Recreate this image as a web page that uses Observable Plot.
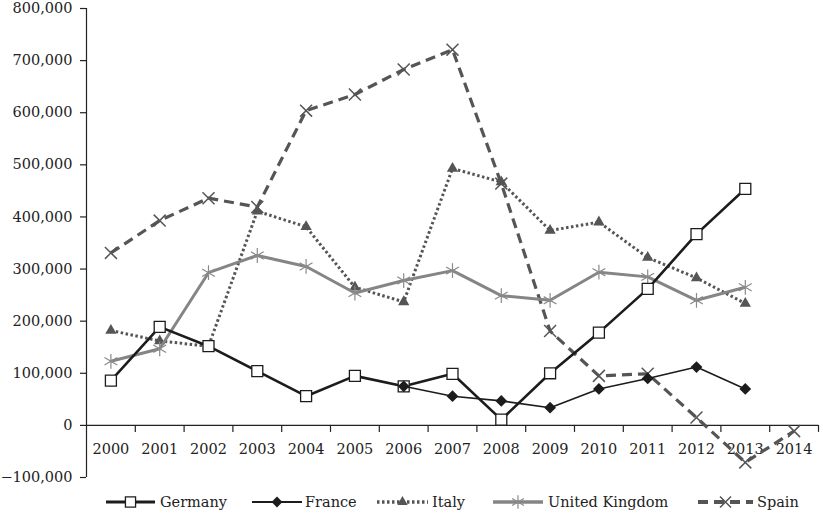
<!DOCTYPE html>
<html><head><meta charset="utf-8">
<script src="https://cdn.jsdelivr.net/npm/d3@7"></script>
<script src="https://cdn.jsdelivr.net/npm/@observablehq/plot@0.6"></script>
<style>
body{margin:0;background:#fff;}
#chart{width:823px;height:517px;font-family:"DejaVu Serif",serif;}
#chart svg{display:block;}
</style>
</head><body><div id="chart"></div>
<script>
const years = [2000,2001,2002,2003,2004,2005,2006,2007,2008,2009,2010,2011,2012,2013,2014];
const germany = [86000,189000,152000,104000,56000,95000,75000,99000,11000,100000,178000,262000,367000,454000];
const france  = [null,null,null,null,null,null,75000,56000,47000,34000,70000,90000,112000,70000];
const italy   = [182000,162000,152000,411000,381000,265000,237000,493000,467000,374000,390000,322000,283000,234000];
const uk      = [123000,147000,293000,326000,305000,254000,278000,297000,249000,240000,294000,285000,240000,265000];
const spain   = [331000,393000,436000,419000,604000,635000,683000,721000,464000,181000,95000,99000,15000,-71000,-11000];
const yTicks  = [-100000,0,100000,200000,300000,400000,500000,600000,700000,800000];
const seriesNames = ["Germany","France","Italy","United Kingdom","Spain"];

const styles = {
  "Spain":          {values: spain,   stroke:"#555", width:3.2, dash:"10,6", symbol:"times",    r:5.5, fill:"none",  sym:"#555", symW:1.5},
  "Italy":          {values: italy,   stroke:"#555", width:3,   dash:"2.5,2.5", symbol:"triangle", r:4.2, fill:"#555", sym:"none", symW:0},
  "United Kingdom": {values: uk,      stroke:"#858585", width:3, dash:null, symbol:"asterisk", r:7, fill:"none",  sym:"#8a8a8a", symW:1.2},
  "Germany":        {values: germany, stroke:"#1c1c1c", width:2.6, dash:null, symbol:"square", r:6.2, fill:"#fff", sym:"#1c1c1c", symW:1.3},
  "France":         {values: france,  stroke:"#1c1c1c", width:1.6, dash:null, symbol:"diamond2", r:5.3, fill:"#1c1c1c", sym:"none", symW:0}
};
const drawOrder = ["Spain","Italy","United Kingdom","Germany","France"];

const rows = name => styles[name].values
  .map((v,i) => ({name, year: years[i], value: v}))
  .filter(d => d.value != null);

const boundaries = years.map(y => y + 0.5);

const marks = [
  Plot.ruleX([years[0]-0.5], {stroke:"#222", strokeWidth:1.2}),
  Plot.ruleY([0], {stroke:"#222", strokeWidth:1.2}),
  Plot.ruleX(boundaries, {y1: 0, y2: 0, insetBottom: -7, stroke:"#222", strokeWidth:1.2}),
  Plot.axisY(yTicks, {label: null, tickSize: 6, tickPadding: 8, tickFormat: d3.format(","), fontSize: 14.5, stroke:"#222", fill:"#222", strokeWidth:1.2}),
  Plot.text(years, {x: d => d, y: 0, dy: 24, text: d => String(d), fontSize: 14.5, fill:"#222"})
];
for (const name of drawOrder) {
  const s = styles[name];
  const data = rows(name);
  marks.push(Plot.line(data, {x:"year", y:"value", stroke:s.stroke, strokeWidth:s.width, strokeDasharray:s.dash || undefined, strokeLinecap:"butt", strokeLinejoin:"round"}));
  marks.push(Plot.dot(data, {x:"year", y:"value", symbol:s.symbol, r:s.r, fill:s.fill, stroke:s.sym, strokeWidth:s.symW}));
}

const plot = Plot.plot({
  width: 823, height: 485,
  marginLeft: 86, marginRight: 5, marginTop: 8, marginBottom: 8,
  x: {type:"linear", domain:[years[0]-0.5, years[years.length-1]+0.5], axis:null},
  y: {domain:[-100000, 800000], axis:null, label:null},
  style: {fontFamily:"DejaVu Serif", fontSize:"14.5px", color:"#222", background:"#fff"},
  marks
});
document.getElementById("chart").appendChild(plot);

// Legend
const legendPos = {"Germany":[106,155,160], "France":[252,302,305], "Italy":[377,428,432], "United Kingdom":[493,543,548], "Spain":[698,753,757]};
const lg = d3.select("#chart").append("svg").attr("width",823).attr("height",32)
  .style("font-family","DejaVu Serif").style("font-size","14.5px");
const cy = 17;
const symMap = {times:d3.symbolTimes, triangle:d3.symbolTriangle, asterisk:d3.symbolAsterisk, square:d3.symbolSquare, diamond2:d3.symbolDiamond2};
for (const name of seriesNames) {
  const s = styles[name];
  const [x1,x2,tx] = legendPos[name];
  lg.append("line").attr("x1",x1).attr("x2",x2).attr("y1",cy).attr("y2",cy)
    .attr("stroke",s.stroke).attr("stroke-width",s.width+0.6).attr("stroke-dasharray",s.dash);
  lg.append("path").attr("transform",`translate(${(x1+x2)/2},${cy})`)
    .attr("d", d3.symbol(symMap[s.symbol], Math.PI*s.r*s.r*0.85)())
    .attr("fill",s.fill).attr("stroke",s.sym).attr("stroke-width",s.symW);
  lg.append("text").attr("x",tx).attr("y",cy).attr("dy","0.35em").attr("fill","#222").text(name);
}
</script>
</body></html>
